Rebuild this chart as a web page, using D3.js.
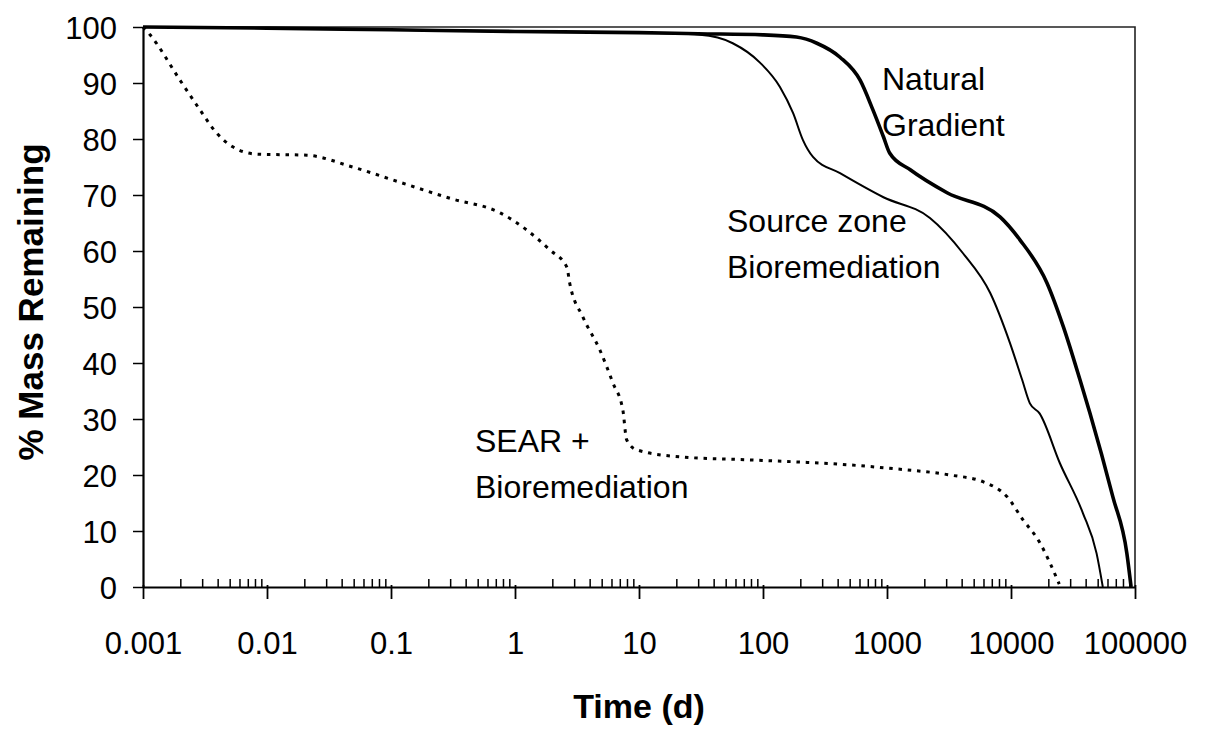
<!DOCTYPE html>
<html>
<head>
<meta charset="utf-8">
<script src="https://cdn.jsdelivr.net/npm/d3@7"></script>
<style>
  html, body { margin: 0; padding: 0; background: #fff; }
  svg { display: block; }
  text { font-family: "Liberation Sans", Arial, Helvetica, sans-serif; fill: #000; }
</style>
</head>
<body>
<svg id="chart" width="1207" height="730"></svg>
<script>
// ---- data ----
const xTickValues = [0.001, 0.01, 0.1, 1, 10, 100, 1000, 10000, 100000];
const xTickLabels = ["0.001", "0.01", "0.1", "1", "10", "100", "1000", "10000", "100000"];
const yTickValues = [0, 10, 20, 30, 40, 50, 60, 70, 80, 90, 100];
const yTickLabels = ["0", "10", "20", "30", "40", "50", "60", "70", "80", "90", "100"];

const timeNatural = [0.001, 0.01, 0.1, 1, 10, 30, 100, 186, 272, 418, 607, 770, 936, 1050, 1540, 3050, 8150, 11800, 19500, 26500, 36000, 43400, 66300, 86000, 93000];
const massNatural = [100, 99.8, 99.5, 99.2, 99.0, 98.8, 98.6, 98.2, 97.1, 94.6, 90.5, 85.2, 80.4, 77.5, 74.5, 70.4, 66.1, 62.0, 54.3, 46.4, 37.0, 31.0, 16.1, 6.0, 0];

const timeSource = [0.001, 0.01, 0.1, 1, 10, 31, 57, 95, 137, 175, 210, 253, 418, 936, 2220, 4100, 6800, 9800, 12300, 14200, 17000, 24800, 38000, 49000, 55000];
const massSource = [100, 99.8, 99.5, 99.2, 99.0, 98.6, 97.1, 93.6, 89.3, 84.6, 79.8, 76.8, 73.9, 69.6, 65.9, 59.6, 52.5, 43.6, 37.0, 32.8, 31.0, 22.1, 13.2, 6.0, 0];

const timeSear = [0.001, 0.00114, 0.00199, 0.00288, 0.00395, 0.0053, 0.0083, 0.021, 0.049, 0.117, 0.3, 0.76, 1.91, 2.62, 2.76, 3.53, 4.84, 6.17, 7.41, 7.95, 9.55, 22.6, 78.5, 500, 1050, 3220, 5940, 9300, 12500, 17100, 20600, 24500];
const massSear = [100, 98.6, 90.5, 85.2, 81.0, 78.6, 77.3, 77.1, 75.0, 72.3, 69.4, 66.8, 60.2, 57.1, 54.3, 48.2, 42.3, 36.4, 31.6, 26.3, 24.5, 23.2, 22.7, 21.8, 21.2, 20.0, 18.8, 16.1, 12.0, 7.9, 4.3, 0.5];

const seriesNames = ["Natural Gradient", "Source zone Bioremediation", "SEAR + Bioremediation"];
const xTitle = "Time (d)";
const yTitle = "% Mass Remaining";

// ---- layout ----
const svg = d3.select("#chart");
const plotL = 143, plotR = 1135, plotT = 27, plotB = 587;

svg.append("rect").attr("width", 1207).attr("height", 730).attr("fill", "#fff");

const x = d3.scaleLog().domain([0.001, 100000]).range([plotL, plotR]);
const y = d3.scaleLinear().domain([0, 100]).range([plotB, plotT]);

// frame (top / right)
svg.append("path")
  .attr("d", `M${plotL},${plotT}H${plotR}V${plotB}`)
  .attr("fill", "none").attr("stroke", "#222").attr("stroke-width", 1.6);

// minor x ticks (pointing up)
const minorTicks = [];
for (let e = -3; e < 5; e++) for (let m = 2; m <= 9; m++) minorTicks.push(m * Math.pow(10, e));
svg.append("g")
  .attr("transform", `translate(0,${plotB})`)
  .call(d3.axisBottom(x).tickValues(minorTicks).tickSize(-8).tickSizeOuter(0).tickFormat(""))
  .call(g => g.select(".domain").remove())
  .call(g => g.selectAll(".tick line").attr("stroke", "#000").attr("stroke-width", 1.5));

// major x axis
const xAxis = svg.append("g")
  .attr("transform", `translate(0,${plotB})`)
  .call(d3.axisBottom(x).tickValues(xTickValues).tickSize(12).tickSizeOuter(0).tickPadding(33)
    .tickFormat((d, i) => xTickLabels[i]));
xAxis.select(".domain").attr("stroke", "#000").attr("stroke-width", 2);
xAxis.selectAll(".tick line").attr("stroke", "#000").attr("stroke-width", 1.8).attr("y1", -2);
xAxis.selectAll(".tick text").attr("font-size", 31).attr("font-family", "Liberation Sans, Arial, sans-serif").attr("fill", "#000");

// y axis
const yAxis = svg.append("g")
  .attr("transform", `translate(${plotL},0)`)
  .call(d3.axisLeft(y).tickValues(yTickValues).tickSize(10).tickSizeOuter(0).tickPadding(16)
    .tickFormat((d, i) => yTickLabels[i]));
yAxis.select(".domain").attr("stroke", "#000").attr("stroke-width", 2.2);
yAxis.selectAll(".tick line").attr("stroke", "#000").attr("stroke-width", 1.5);
yAxis.selectAll(".tick text").attr("font-size", 31).attr("font-family", "Liberation Sans, Arial, sans-serif").attr("fill", "#000").attr("dy", "0.36em");

// lines
const line = d3.line().x(d => x(d[0])).y(d => y(d[1])).curve(d3.curveMonotoneX);
const zip = (a, b) => a.map((v, i) => [v, b[i]]);

svg.append("path").datum(zip(timeSource, massSource))
  .attr("d", line).attr("fill", "none").attr("stroke", "#000").attr("stroke-width", 2)
  .attr("stroke-linejoin", "round");
svg.append("path").datum(zip(timeNatural, massNatural))
  .attr("d", line).attr("fill", "none").attr("stroke", "#000").attr("stroke-width", 3.6)
  .attr("stroke-linejoin", "round");
svg.append("path").datum(zip(timeSear, massSear))
  .attr("d", line).attr("fill", "none").attr("stroke", "#000").attr("stroke-width", 3)
  .attr("stroke-dasharray", "3.5,5.8");

// annotations
const ann = svg.append("g").attr("font-size", 32);
function label(lines, px, py) {
  lines.forEach((t, i) => ann.append("text").attr("x", px).attr("y", py + i * 46).text(t));
}
label(["Natural", "Gradient"], 882, 90);
label(["Source zone", "Bioremediation"], 727, 232);
label(["SEAR +", "Bioremediation"], 475, 452);

// axis titles
svg.append("text").attr("x", 639).attr("y", 718).attr("text-anchor", "middle")
  .attr("font-size", 34).attr("font-weight", "bold").text(xTitle);
svg.append("text").attr("transform", "translate(43,302) rotate(-90)").attr("text-anchor", "middle")
  .attr("font-size", 35).attr("font-weight", "bold").text(yTitle);
</script>
</body>
</html>
